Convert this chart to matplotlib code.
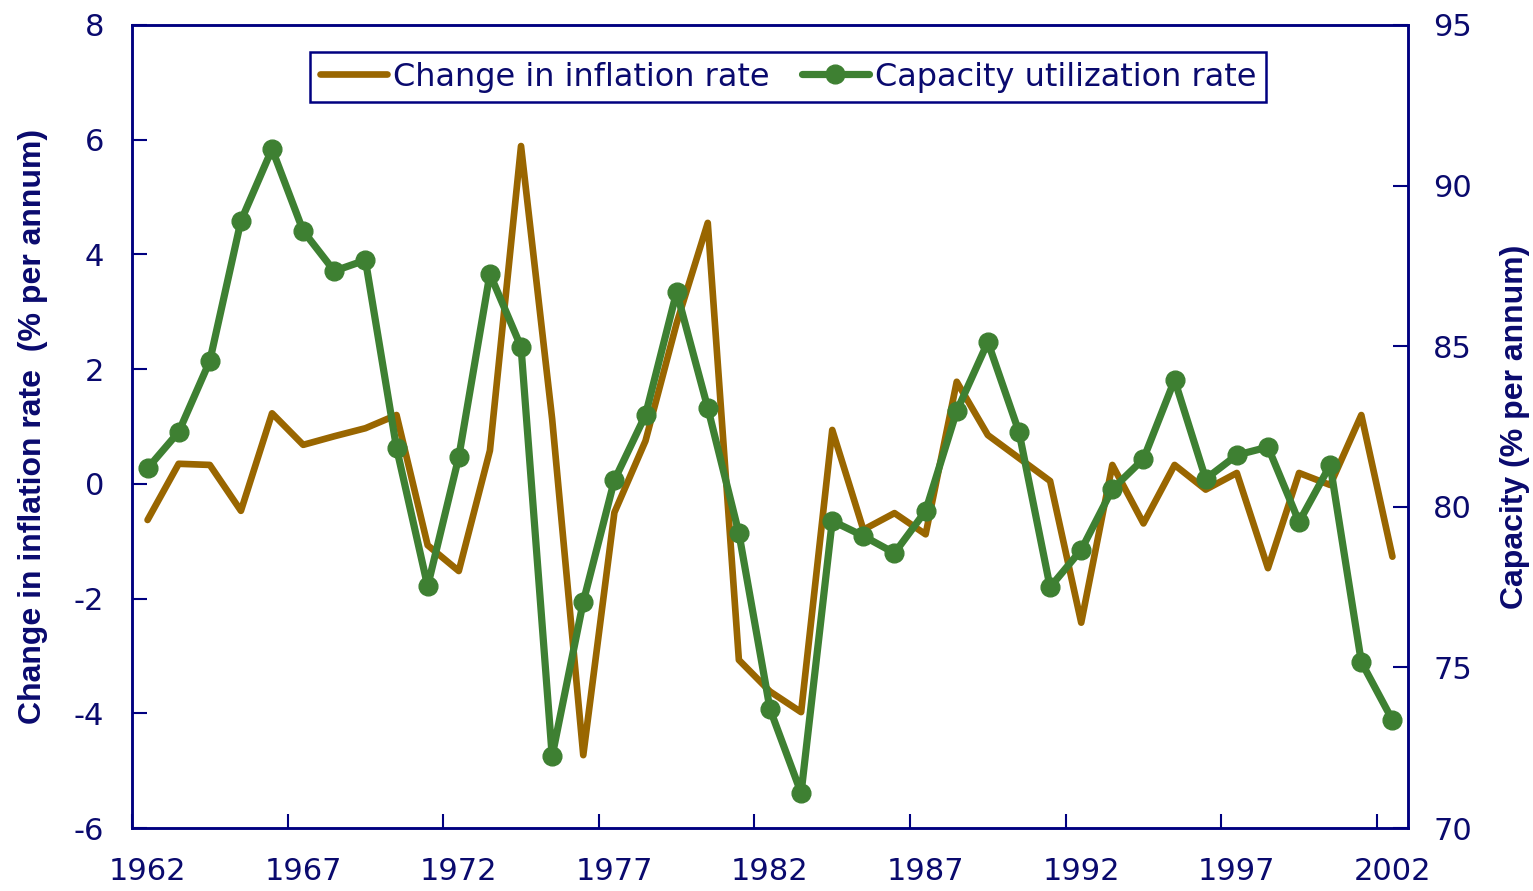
import matplotlib.pyplot as plt
import numpy as np

years = list(range(1962, 2003))
inflation_change = [-0.63, 0.35, 0.33, -0.47, 1.23, 0.68, 0.83, 0.97, 1.20, -1.07,
                    -1.52, 0.58, 5.89, 1.13, -4.73, -0.50, 0.75, 2.80, 4.55, -3.07,
                    -3.62, -3.98, 0.94, -0.80, -0.51, -0.88, 1.78, 0.85, 0.45, 0.05,
                    -2.42, 0.33, -0.69, 0.33, -0.10, 0.19, -1.47, 0.19, -0.02, 1.20,
                    -1.27]
capacity = [81.20, 82.33, 84.54, 88.90, 91.14, 88.59, 87.34, 87.68, 81.83, 77.53,
            81.55, 87.25, 84.98, 72.24, 77.04, 80.83, 82.86, 86.69, 83.08, 79.18,
            73.70, 71.09, 79.56, 79.09, 78.56, 79.87, 82.98, 85.13, 82.33, 77.50,
            78.66, 80.55, 81.49, 83.95, 80.87, 81.61, 81.86, 79.53, 81.30, 75.17,
            73.36]
year_ticks = list(range(1962, 2003, 5))
left_ticks = list(range(-6, 9, 2))
right_ticks = list(range(70, 96, 5))

NAVY = "#000080"
TEXT = "#0a0a6e"
ORANGE = "#996600"
GREEN = "#3e8032"

plt.rcParams["font.family"] = ["DejaVu Sans"]
plt.rcParams["axes.unicode_minus"] = False
label_font = dict(family=["Liberation Sans Narrow", "Liberation Sans", "DejaVu Sans"],
                  weight="bold", fontsize=23, color=TEXT)

fig = plt.figure(figsize=(15.33, 8.91), dpi=100)
ax = fig.add_axes([132 / 1533, 1 - 828 / 891, 1276 / 1533, 803 / 891])
ax2 = ax.twinx()

x = np.array(years) + 0.5
l1, = ax.plot(x, inflation_change, color=ORANGE, lw=4.8,
              solid_capstyle="round", solid_joinstyle="round",
              label="Change in inflation rate")
l2, = ax2.plot(x, capacity, color=GREEN, lw=5.2, marker="o", markersize=13.5,
               solid_capstyle="round", solid_joinstyle="round",
               label="Capacity utilization rate")

ax.set_xlim(1962, 2003)
ax.set_ylim(-6, 8)
ax2.set_ylim(70, 95)

# ticks at year boundaries, labels centred on the year
ax.set_xticks(year_ticks)
ax.set_xticklabels([])
ax.set_xticks([y + 0.5 for y in year_ticks], minor=True)
ax.set_xticklabels([str(y) for y in year_ticks], minor=True)
ax.tick_params(axis="x", which="major", direction="in", length=10, width=1.5,
               color=NAVY)
ax.tick_params(axis="x", which="minor", length=0, pad=21, labelsize=22,
               labelcolor=TEXT)

ax.set_yticks(left_ticks)
ax.tick_params(axis="y", direction="in", length=11, width=1.5, color=NAVY,
               pad=20, labelsize=22, labelcolor=TEXT)
ax2.set_yticks(right_ticks)
ax2.tick_params(axis="y", direction="in", length=11, width=1.5, color=NAVY,
                pad=18, labelsize=22, labelcolor=TEXT)

for a in (ax, ax2):
    for s in a.spines.values():
        s.set_color(NAVY)
        s.set_linewidth(1.8)

ax.set_ylabel("Change in inflation rate  (% per annum)", **label_font)
ax.yaxis.set_label_coords(-0.066, 0.5)
ax2.set_ylabel("Capacity (% per annum)", **label_font)
ax2.yaxis.set_label_coords(1.072, 0.5)

leg = ax2.legend(handles=[l1, l2], loc="upper left", ncol=2,
                 bbox_to_anchor=(310 / 1533, 1 - 52 / 891),
                 bbox_transform=fig.transFigure, borderaxespad=0,
                 fontsize=23, handlelength=2.1, handletextpad=0.2,
                 columnspacing=1.0, borderpad=0.3, fancybox=False,
                 framealpha=1, edgecolor=NAVY)
leg.get_frame().set_linewidth(1.8)
for t in leg.get_texts():
    t.set_color(TEXT)

fig.savefig("out.png", dpi=100)
